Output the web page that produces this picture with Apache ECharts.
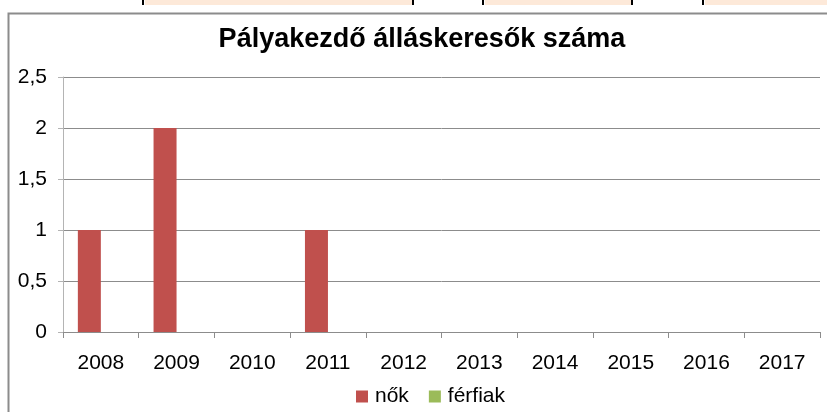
<!DOCTYPE html>
<html>
<head>
<meta charset="utf-8">
<script src="https://cdn.jsdelivr.net/npm/echarts@6/dist/echarts.min.js"></script>
<style>
  html, body { margin: 0; padding: 0; background: #fff; }
  #chart { width: 827px; height: 412px; }
</style>
</head>
<body>
<div id="chart"></div>
<script>
// data
var years = ['2008', '2009', '2010', '2011', '2012', '2013', '2014', '2015', '2016', '2017'];
var nok = [1, 2, 0, 1, 0, 0, 0, 0, 0, 0];
var ferfiak = [0, 0, 0, 0, 0, 0, 0, 0, 0, 0];
var seriesNames = ['nők', 'férfiak'];

var FONT = '"Liberation Sans", Arial, sans-serif';

var chart = echarts.init(document.getElementById('chart'));
chart.setOption({
    animation: false,
    textStyle: { fontFamily: FONT },
    title: {
        text: 'Pályakezdő álláskeresők száma',
        left: 422,
        textAlign: 'center',
        top: 26,
        padding: 0,
        textStyle: { fontFamily: FONT, fontSize: 27, fontWeight: 'bold', color: '#000' }
    },
    legend: {
        data: seriesNames,
        left: 356,
        top: 386,
        padding: 0,
        itemWidth: 12,
        itemHeight: 12,
        itemGap: 20,
        icon: 'rect',
        textStyle: { fontFamily: FONT, fontSize: 21, color: '#000', padding: [0, 0, 0, 2] }
    },
    grid: {
        left: 63,
        right: 7,
        top: 77,
        bottom: 80,
        containLabel: false
    },
    xAxis: {
        type: 'category',
        data: years,
        axisLine: { lineStyle: { color: '#8c8c8c', width: 1 } },
        axisTick: { show: true, length: 6, alignWithLabel: false, lineStyle: { color: '#8c8c8c' } },
        axisLabel: { color: '#000', fontSize: 21, fontFamily: FONT, margin: 21 }
    },
    yAxis: {
        type: 'value',
        min: 0,
        max: 2.5,
        interval: 0.5,
        axisLine: { show: true, lineStyle: { color: '#b4b4b4', width: 1 } },
        axisTick: { show: true, length: 5, lineStyle: { color: '#b4b4b4' } },
        splitLine: { lineStyle: { color: '#8c8c8c', width: 1 } },
        axisLabel: {
            color: '#000', fontSize: 21, fontFamily: FONT, margin: 16,
            formatter: function (v) { return String(v).replace('.', ','); }
        }
    },
    series: [
        { name: seriesNames[0], type: 'bar', data: nok, barWidth: 23, barGap: 0, itemStyle: { color: '#c0504d' } },
        { name: seriesNames[1], type: 'bar', data: ferfiak, barWidth: 23, itemStyle: { color: '#9bbb59' } }
    ],
    graphic: [
        // spreadsheet cells peeking above the chart
        { type: 'rect', shape: { x: 145, y: 0, width: 267, height: 5 }, style: { fill: '#fde9d9' }, silent: true },
        { type: 'rect', shape: { x: 485, y: 0, width: 146, height: 5 }, style: { fill: '#fde9d9' }, silent: true },
        { type: 'rect', shape: { x: 705, y: 0, width: 122, height: 5 }, style: { fill: '#fde9d9' }, silent: true },
        { type: 'rect', shape: { x: 142, y: 0, width: 2, height: 5 }, style: { fill: '#000' }, silent: true },
        { type: 'rect', shape: { x: 412, y: 0, width: 2, height: 5 }, style: { fill: '#000' }, silent: true },
        { type: 'rect', shape: { x: 482, y: 0, width: 2, height: 5 }, style: { fill: '#000' }, silent: true },
        { type: 'rect', shape: { x: 631, y: 0, width: 2, height: 5 }, style: { fill: '#000' }, silent: true },
        { type: 'rect', shape: { x: 702, y: 0, width: 2, height: 5 }, style: { fill: '#000' }, silent: true },
        // chart frame
        { type: 'rect', shape: { x: 8.5, y: 13.5, width: 830, height: 420 }, style: { fill: 'none', stroke: '#8c8c8c', lineWidth: 2 }, silent: true }
    ]
});
</script>
</body>
</html>
